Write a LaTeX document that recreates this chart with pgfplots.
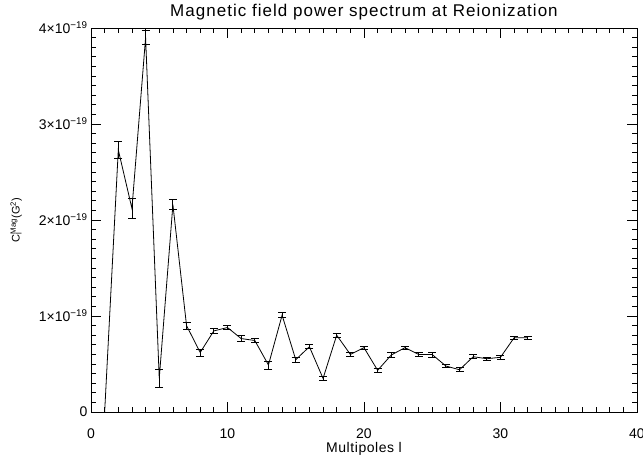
\documentclass[border=0pt]{standalone}
\usepackage{fontspec}
\setmainfont{Liberation Sans}
\usepackage{pgfplots}
\pgfplotsset{compat=1.18}

\begin{document}
\begin{tikzpicture}[x=1pt,y=1pt]
\begin{axis}[
   at={(0,0)}, anchor=south west,
   scale only axis,
   width=546pt, height=384pt,
   xmin=0, xmax=40, ymin=0, ymax=4e-19,
   xtick={0,10,20,30,40},
   ytick={0,1e-19,2e-19,3e-19,4e-19},
   scaled y ticks=false,
   yticklabels={0, 1×10\textsuperscript{−19}, 2×10\textsuperscript{−19}, 3×10\textsuperscript{−19}, 4×10\textsuperscript{−19}},
   minor x tick num=9, minor y tick num=9,
   tick align=inside,
   major tick length=10pt, minor tick length=5pt,
   every tick/.style={black, line width=0.7pt},
   axis line style={line width=0.8pt},
   /pgf/number format/assume math mode=true,
   tick label style={font=\fontsize{14}{16}\selectfont},
   xticklabel style={anchor=base, yshift=-26pt},
   title={Magnetic field power spectrum at Reionization},
   title style={at={(axis description cs:0.5,1)}, anchor=base, yshift=6pt,
      font=\fontsize{17}{20}\selectfont\addfontfeature{LetterSpace=6}},
   xlabel={Multipoles l},
   xlabel style={at={(axis description cs:0.5,0)}, anchor=base, yshift=-40pt,
      font=\fontsize{14}{16}\selectfont\addfontfeature{LetterSpace=4}},
   ylabel={C\rlap{\textsubscript{l}}\textsuperscript{Mag}(G\textsuperscript{2})},
   ylabel style={at={(axis description cs:-0.137,0.5)}, anchor=center,
      font=\fontsize{11}{13}\selectfont},
]
\addplot[black, line width=0.8pt, mark=none,
   error bars/.cd, y dir=both, y explicit,
   error bar style={line width=0.8pt},
   error mark options={rotate=90, mark size=4pt, line width=0.8pt}]
coordinates {
(1, 0) +- (0, 0)
(2, 2.73e-19) +- (0, 0.09e-19)
(3, 2.12e-19) +- (0, 0.105e-19)
(4, 3.90e-19) +- (0, 0.07e-19)
(5, 0.35e-19) +- (0, 0.09e-19)
(6, 2.16e-19) +- (0, 0.05e-19)
(7, 0.90e-19) +- (0, 0.037e-19)
(8, 0.62e-19) +- (0, 0.037e-19)
(9, 0.845e-19) +- (0, 0.025e-19)
(10, 0.88e-19) +- (0, 0.022e-19)
(11, 0.765e-19) +- (0, 0.033e-19)
(12, 0.745e-19) +- (0, 0.023e-19)
(13, 0.49e-19) +- (0, 0.042e-19)
(14, 1.008e-19) +- (0, 0.026e-19)
(15, 0.545e-19) +- (0, 0.025e-19)
(16, 0.68e-19) +- (0, 0.021e-19)
(17, 0.35e-19) +- (0, 0.02e-19)
(18, 0.80e-19) +- (0, 0.021e-19)
(19, 0.60e-19) +- (0, 0.017e-19)
(20, 0.67e-19) +- (0, 0.017e-19)
(21, 0.434e-19) +- (0, 0.017e-19)
(22, 0.594e-19) +- (0, 0.024e-19)
(23, 0.67e-19) +- (0, 0.017e-19)
(24, 0.60e-19) +- (0, 0.016e-19)
(25, 0.598e-19) +- (0, 0.026e-19)
(26, 0.479e-19) +- (0, 0.014e-19)
(27, 0.44e-19) +- (0, 0.022e-19)
(28, 0.576e-19) +- (0, 0.021e-19)
(29, 0.555e-19) +- (0, 0.014e-19)
(30, 0.57e-19) +- (0, 0.021e-19)
(31, 0.774e-19) +- (0, 0.017e-19)
(32, 0.774e-19) +- (0, 0.017e-19)
};
\end{axis}
\pgfresetboundingbox
\useasboundingbox (-91,-47) rectangle (552,412);
\end{tikzpicture}
\end{document}
